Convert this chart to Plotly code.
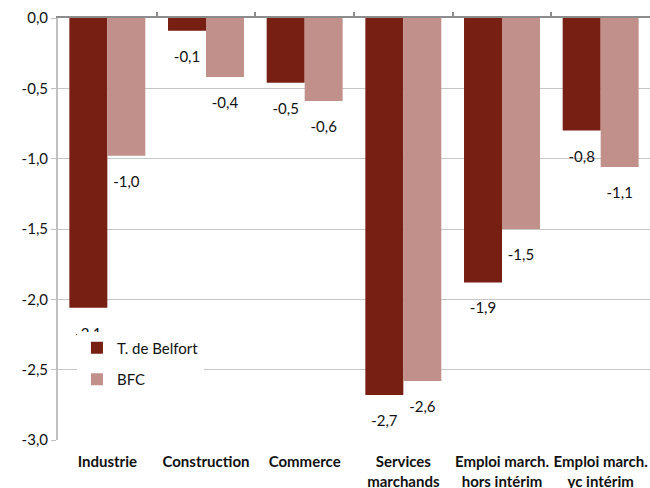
import plotly.graph_objects as go

categories = ["Industrie", "Construction", "Commerce", "Services\nmarchands",
              "Emploi march.\nhors intérim", "Emploi march.\nyc intérim"]
belfort = [-2.06, -0.09, -0.46, -2.68, -1.88, -0.80]
bfc = [-0.98, -0.42, -0.59, -2.58, -1.50, -1.06]
series_names = ["T. de Belfort", "BFC"]
y_ticks = [0.0, -0.5, -1.0, -1.5, -2.0, -2.5, -3.0]
y_tick_labels = ["0,0", "-0,5", "-1,0", "-1,5", "-2,0", "-2,5", "-3,0"]

FONT = "Lato, 'Open Sans', sans-serif"
DARK = "#761F12"
LIGHT = "#C1908A"
GAP = 0.23

def fmt(v):
    return f"{v:.1f}".replace(".", ",")

xs = list(range(len(categories)))
ticktext = ["<b>" + c.replace("\n", "<br>") + "</b>" for c in categories]

fig = go.Figure()
for name, vals, col, grp in [(series_names[0], belfort, DARK, "a"), (series_names[1], bfc, LIGHT, "b")]:
    fig.add_trace(go.Bar(
        x=xs, y=vals, name=name, legendgroup=grp, offsetgroup=grp,
        marker=dict(color=col, line=dict(width=0)),
    ))
for name, vals, grp in [(series_names[0], belfort, "a"), (series_names[1], bfc, "b")]:
    fig.add_trace(go.Scatter(
        x=xs, y=vals, offsetgroup=grp, mode="markers+text",
        marker=dict(size=30, opacity=0), text=[fmt(v) for v in vals],
        textposition="bottom center",
        textfont=dict(family=FONT, size=15, color="#111"),
        showlegend=False, hoverinfo="skip", cliponaxis=False,
    ))

fig.update_layout(
    width=650, height=488,
    margin=dict(l=58, r=0, t=18, b=48, autoexpand=False),
    paper_bgcolor="white", plot_bgcolor="white",
    barmode="group", bargap=GAP, bargroupgap=0,
    scattermode="group", scattergap=GAP,
    font=dict(family=FONT, size=15, color="#111"),
    showlegend=True,
    legend=dict(
        x=0.032, y=0.257, xanchor="left", yanchor="top",
        bgcolor="white", borderwidth=0,
        font=dict(family=FONT, size=15, color="#111"),
        tracegroupgap=9,
        traceorder="grouped",
    ),
    xaxis=dict(
        range=[-0.5, len(categories) - 0.5], automargin=False,
        tickvals=xs, ticktext=ticktext,
        tickfont=dict(family=FONT, size=15, color="#111"),
        ticks="", showline=False, showgrid=False, zeroline=False,
        ticklabelstandoff=11,
    ),
    xaxis2=dict(
        overlaying="x", anchor="y", side="top", automargin=False,
        range=[-0.5, len(categories) - 0.5],
        tickvals=[i + 0.5 for i in xs[:-1]], ticktext=["" for _ in xs[:-1]],
        ticks="outside", ticklen=4, tickcolor="#8c8c8c", tickwidth=2,
        showline=True, linecolor="#8c8c8c", linewidth=2,
        showgrid=False, zeroline=False, showticklabels=False,
    ),
    yaxis=dict(
        range=[-3.0, 0.0], automargin=False,
        tickvals=y_ticks, ticktext=y_tick_labels,
        tickfont=dict(family=FONT, size=15, color="#111"),
        showgrid=True, gridcolor="#c6c6c6", gridwidth=1,
        showline=True, linecolor="#c0c0c0", linewidth=2,
        ticks="outside", ticklen=5, tickcolor="#c0c0c0",
        zeroline=False, ticklabelstandoff=0,
    ),
)
# invisible trace to activate the top axis
fig.add_trace(go.Scatter(x=[0], y=[0], xaxis="x2", mode="markers",
                         marker=dict(opacity=0), showlegend=False, hoverinfo="skip"))

fig.write_html(
    "out.html",
    config={"displayModeBar": False},
    post_script="document.body.style.margin='0';document.body.style.overflow='hidden';",
)
